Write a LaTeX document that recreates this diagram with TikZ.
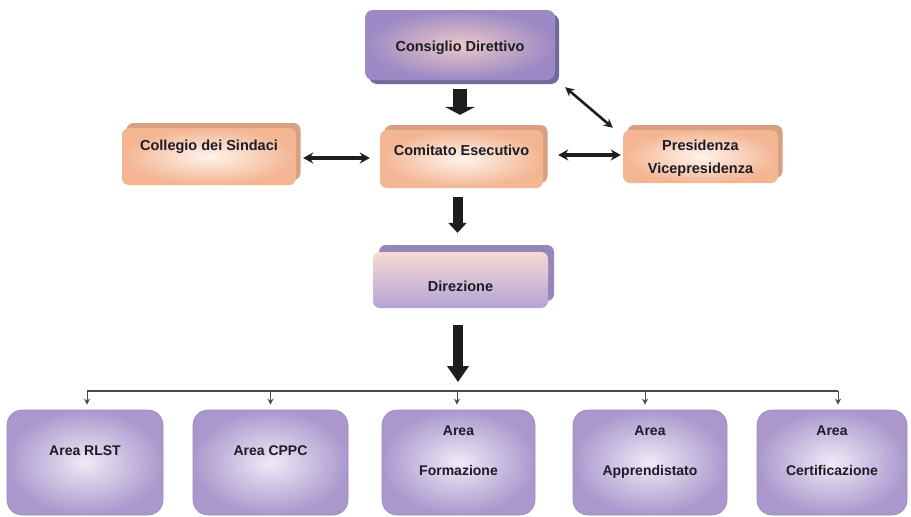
\documentclass[tikz,border=0pt]{standalone}
\usepackage{fontspec}
\setmainfont{Liberation Sans}
\usetikzlibrary{arrows.meta,shadows,calc}
\definecolor{txt}{HTML}{1C1C28}
\definecolor{orin}{HTML}{FFF3EB}
\definecolor{orout}{HTML}{F3B592}
\definecolor{orback}{HTML}{D6A081}
\definecolor{cdin}{HTML}{EBC8C6}
\definecolor{cdout}{HTML}{9C89C5}
\definecolor{cdback}{HTML}{716B9B}
\definecolor{dirtop}{HTML}{F7DAD3}
\definecolor{dirbot}{HTML}{B3A3D5}
\definecolor{dirback}{HTML}{9485BA}
\definecolor{arin}{HTML}{EFEAF6}
\definecolor{arout}{HTML}{AA98CD}
\definecolor{arline}{HTML}{9A89BF}
\definecolor{arrc}{HTML}{1E1E1E}
\definecolor{busc}{HTML}{4A4A4A}
\newcommand{\boxtext}[2]{\raisebox{#1}[0pt][0pt]{\begin{tabular}{@{}c@{}}#2\end{tabular}}}
\begin{document}
\begin{tikzpicture}[x=1pt,y=-1pt,
  every node/.style={inner sep=0pt, text=txt, font=\fontsize{14.5}{17}\selectfont\bfseries},
  orbox/.style={rounded corners=7pt, inner color=orin, outer color=orout,
    general shadow={shadow xshift=4.5pt, shadow yshift=5pt, fill=orback}},
  cdbox/.style={rounded corners=8pt, inner color=cdin, outer color=cdout,
    general shadow={shadow xshift=4pt, shadow yshift=-4pt, fill=cdback}},
  dirbox/.style={rounded corners=7pt, top color=dirtop, bottom color=dirbot,
    general shadow={shadow xshift=6pt, shadow yshift=7pt, fill=dirback}},
  areabox/.style={rounded corners=15pt, inner color=arin, outer color=arout, draw=arline, line width=0.6pt,
    minimum height=105pt, font=\fontsize{14}{17}\selectfont\bfseries},
  blockA/.style={draw=arrc, line width=14pt, -{Triangle[width=30pt,length=8pt]}},
  blockB/.style={draw=arrc, line width=10pt, -{Triangle[width=18pt,length=10pt]}},
  blockC/.style={draw=arrc, line width=10pt, -{Triangle[width=21pt,length=16pt]}},
  dbl/.style={draw=arrc, line width=3.5pt, {Stealth[width=11pt,length=10pt]}-{Stealth[width=11pt,length=10pt]}},
  dbldiag/.style={draw=arrc, line width=2.6pt, {Stealth[width=9pt,length=9pt]}-{Stealth[width=9pt,length=9pt]}},
  drop/.style={draw=busc, line width=1pt, -{Stealth[width=6pt,length=6pt]}}
]
\useasboundingbox[fill=white] (0,0) rectangle (911,517);

% top level
\node[cdbox, minimum width=190pt, minimum height=70pt] (cons) at (460,45)
  {\boxtext{-6.5pt}{Consiglio Direttivo}};
\node[orbox, minimum width=174pt, minimum height=57pt] (coll) at (209,156.5)
  {\boxtext{6pt}{Collegio dei Sindaci}};
\node[orbox, minimum width=163pt, minimum height=58pt] (comi) at (461.5,159)
  {\boxtext{3.5pt}{Comitato Esecutivo}};
\node[orbox, minimum width=155pt, minimum height=53pt] (pres) at (700.5,156.5)
  {\boxtext{-5.5pt}{Presidenza\\[6pt]Vicepresidenza}};
\node[dirbox, minimum width=175pt, minimum height=56pt] (dire) at (460.5,280)
  {\boxtext{-11.5pt}{Direzione}};

% areas
\node[areabox, minimum width=156pt] (a1) at (85,462.5) {\boxtext{6.5pt}{Area RLST}};
\node[areabox, minimum width=155pt] (a2) at (270.5,462.5) {\boxtext{6.5pt}{Area CPPC}};
\node[areabox, minimum width=153pt] (a3) at (458.5,462.5) {\boxtext{6.5pt}{Area\\[23pt]Formazione}};
\node[areabox, minimum width=154pt] (a4) at (650,462.5) {\boxtext{6.5pt}{Area\\[23pt]Apprendistato}};
\node[areabox, minimum width=150pt] (a5) at (832,462.5) {\boxtext{6.5pt}{Area\\[23pt]Certificazione}};

% block arrows
\draw[blockA, shorten <=9pt, shorten >=15pt] (cons.south) -- (cons.south |- comi.north);
\draw[blockB, shorten <=9pt, shorten >=19pt] ([xshift=-4pt]comi.south) -- ([xshift=-4pt]comi.south |- dire.north);

% bus
\coordinate (busL) at ([xshift=2pt]a1.north |- 0,391);
\coordinate (busR) at ([xshift=6pt]a5.north |- 0,391);
\coordinate (busM) at (a3.north |- busL);
\draw[blockC, shorten <=17pt, shorten >=9pt] ([xshift=-2.5pt]dire.south) -- ([xshift=-2.5pt]dire.south |- busM);
\draw[draw=busc, line width=1.6pt] (busL) -- (busR);
\draw[drop, shorten >=5pt] (busL) -- (busL |- a1.north);
\draw[drop, shorten >=5pt] (a2.north |- busL) -- (a2.north);
\draw[drop, shorten >=5pt] ([xshift=-1.5pt]a3.north |- busL) -- ([xshift=-1.5pt]a3.north);
\draw[drop, shorten >=5pt] ([xshift=-5pt]a4.north |- busL) -- ([xshift=-5pt]a4.north);
\draw[drop, shorten >=5pt] (busR) -- (busR |- a5.north);

% double arrows
\draw[dbl, shorten <=7pt, shorten >=10pt] ([yshift=-1.5pt]coll.east) -- ([yshift=-1.5pt]coll.east -| comi.west);
\draw[dbl, shorten <=15pt, shorten >=2pt] ([yshift=4pt]comi.east) -- ([yshift=4pt]comi.east -| pres.west);
\draw[dbldiag] ([xshift=10pt,yshift=-7pt]cons.south east) -- ([xshift=-10pt,yshift=2pt]pres.north west);
\end{tikzpicture}
\end{document}
